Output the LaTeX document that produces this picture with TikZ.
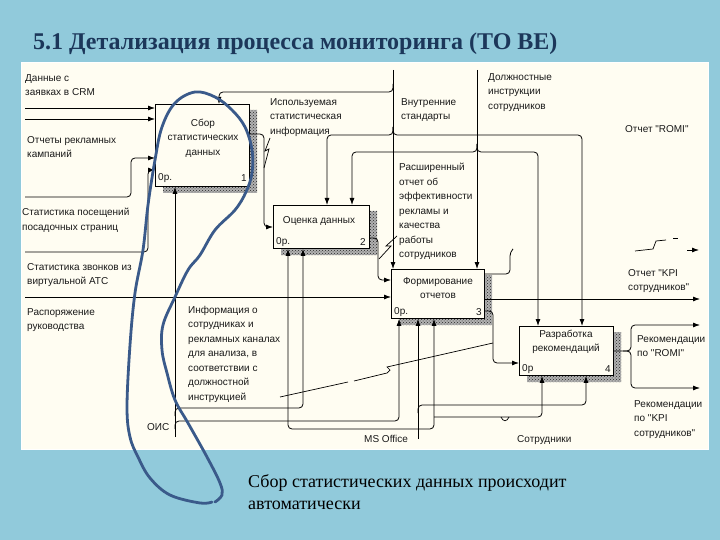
\documentclass[tikz,border=0pt]{standalone}
\usepackage{fontspec}
\setmainfont{Liberation Serif}
\newfontfamily\dsans{Liberation Sans}
\usetikzlibrary{arrows.meta,patterns}
\definecolor{bgblue}{RGB}{145,202,219}
\definecolor{panelc}{RGB}{255,253,242}
\definecolor{titlec}{RGB}{28,55,90}
\definecolor{loopc}{RGB}{58,90,138}
\definecolor{inkc}{RGB}{25,25,25}
\begin{document}
\begin{tikzpicture}[x=1pt,y=-1pt,
  lbl/.style={font=\dsans\fontsize{10}{14.5}\selectfont, text=inkc, inner sep=0pt, align=left, anchor=north west},
  boxtxt/.style={font=\dsans\fontsize{10}{14.5}\selectfont, text=inkc, inner sep=0pt, align=center},
  box/.style={draw=black, line width=0.9pt, fill=panelc, inner sep=0pt, anchor=north west},
  conn/.style={draw=black, line width=0.8pt, rounded corners=4pt},
  arr/.style={conn, -{Latex[length=7pt,width=5pt]}},
  thin/.style={draw=black, line width=0.7pt},
  shadowbase/.style={fill=black!30},
  shadowc/.style={pattern=crosshatch dots, pattern color=black!85},
]
\useasboundingbox (0,0) rectangle (720,540);
\fill[bgblue] (0,0) rectangle (720,540);
\fill[panelc, draw=white, line width=1pt] (21,63) rectangle (708,449);

% title
\node[font=\fontsize{24}{28}\selectfont\bfseries, text=titlec, inner sep=0pt, anchor=base west] (title) at (33,50) {5.1 Детализация процесса мониторинга (ТО ВЕ)};

% shadows
\foreach \sty in {shadowbase,shadowc}{
\fill[\sty] (249,110) -- (257,110) -- (257,193) -- (163,193) -- (163,186) -- (249,186) -- cycle;
\fill[\sty] (369,211) -- (377,211) -- (377,255) -- (281,255) -- (281,248) -- (369,248) -- cycle;
\fill[\sty] (484,275) -- (492,275) -- (492,325) -- (399,325) -- (399,318) -- (484,318) -- cycle;
\fill[\sty] (613,332) -- (621,332) -- (621,382) -- (527,382) -- (527,375) -- (613,375) -- cycle;
}

% boxes
\node[box, minimum width=94pt, minimum height=82pt] (b1) at (155,104) {};
\node[box, minimum width=96pt, minimum height=43pt] (b2) at (273,205) {};
\node[box, minimum width=93pt, minimum height=49pt] (b3) at (391,269) {};
\node[box, minimum width=94pt, minimum height=49pt] (b4) at (519,326) {};

\node[boxtxt] (b1t) at (203,138) {Сбор\\статистических\\данных};
\node[boxtxt] (b2t) at (319,221) {Оценка данных};
\node[boxtxt] (b3t) at (438,288) {Формирование\\отчетов};
\node[boxtxt] (b4t) at (566,342) {Разработка\\рекомендаций};

\node[boxtxt, anchor=west] (b1a) at (158,178) {0р.};
\node[boxtxt, anchor=east] (b1n) at (247,178) {1};
\node[boxtxt, anchor=west] (b2a) at (276,242) {0р.};
\node[boxtxt, anchor=east] (b2n) at (366,242) {2};
\node[boxtxt, anchor=west] (b3a) at (394,312) {0р.};
\node[boxtxt, anchor=east] (b3n) at (482,312) {3};
\node[boxtxt, anchor=west] (b4a) at (522,369) {0р};
\node[boxtxt, anchor=east] (b4n) at (611,369) {4};

% inputs
\coordinate (i1) at (25,108);
\coordinate (i2) at (25,119);
\coordinate (i3) at (25,197);
\coordinate (i4) at (25,252);
\coordinate (i5) at (25,297);
\draw[arr] (i1) -- (b1.west |- i1);
\draw[arr] (i2) -- (b1.west |- i2);
\draw[arr] (i3) -- (131,197) -- (131,158) -- (b1.west |- 0,158);
\draw[arr] (i4) -- (148,252) -- (148,170) -- (b1.west |- 0,170);
\draw[arr] (i5) -- (b3.west |- i5);

% controls
\coordinate (c1) at (393,70);
\coordinate (c2) at (477,70);
\draw[arr] (c1) -- (c1 |- b3.north);
\draw[arr] (c2) -- (c2 |- b3.north);
\draw[arr] (393,84) -- (393,92) -- (219,92) -- (b1.north -| 219,0);
\draw[arr] (393,127) -- (393,135) -- (327,135) -- (b2.north -| 327,0);
\draw[arr] (393,127) -- (393,135) -- (582,135) -- (b4.north -| 582,0);
\draw[arr] (477,144) -- (477,152) -- (352,152) -- (b2.north -| 352,0);
\draw[arr] (477,144) -- (477,152) -- (538,152) -- (b4.north -| 538,0);

% outputs
\draw[arr] (b1.east |- 0,134) -- (264,134) -- (264,227) -- (b2.west |- 0,227);
\draw[arr] (b2.east |- 0,238) -- (378,238) -- (378,280) -- (b3.west |- 0,280);
\coordinate (o1) at (700,299);
\draw[arr] (b3.east |- o1) -- (o1);
\draw[arr] (b3.east |- 0,311) -- (493,311) -- (493,363) -- (b4.west |- 0,363);
\draw[conn] (b3.east |- 0,274) -- (510,274) -- (510,252) -- (513,249);
\draw[thin] (635,251) -- (653,249) -- (656,241) -- (666,240);
\draw[thin] (673,238) -- (678,238);
\coordinate (o2) at (699,250);
\draw[arr] (687,250) -- (o2);
\coordinate (o3) at (700,325);
\coordinate (o4) at (700,388);
\draw[arr] (b4.east |- 0,351) -- (631,351) -- (631,325) -- (o3);
\draw[arr] (623,351) -- (631,351) -- (631,388) -- (o4);

% mechanisms
\coordinate (m1) at (175,437);
\draw[arr] (m1) -- (m1 |- b1.south);
\draw[arr] (175,416) -- (175,408) -- (303,408) -- (b2.south -| 303,0);
\draw[arr] (175,429) -- (175,421) -- (399,421) -- (b3.south -| 399,0);
\coordinate (m2) at (418,439);
\draw[arr] (m2) -- (m2 |- b3.south);
\draw[arr] (418,413) -- (418,405) -- (586,405) -- (b4.south -| 586,0);
\draw[arr] (418,429) -- (288,429) -- (b2.south -| 288,0);
\draw[arr] (418,429) -- (434,429) -- (b3.south -| 434,0);
\draw[arr] (434,417) -- (542,417) -- (b4.south -| 542,0);
\draw[thin] (501,417) .. controls (503,422) and (507,422) .. (509,417);

% leaders
\draw[thin] (270,138) -- (265,151) -- (269,149) -- (264,168);
\draw[thin] (397,236) -- (386,246) -- (391,246) -- (379,259);
\draw[thin] (280,397) -- (348,382);
\draw[thin] (354,381) -- (387,373) -- (390,370) -- (387,367) -- (493,343);

% labels
\node[lbl] (l1) at (25,74) {Данные с\\заявках в CRM};
\node[lbl] (l2) at (27,136) {Отчеты рекламных\\кампаний};
\node[lbl] (l3) at (22,208) {Статистика посещений\\посадочных страниц};
\node[lbl] (l4) at (27,263) {Статистика звонков из\\виртуальной АТС};
\node[lbl] (l5) at (27,308) {Распоряжение\\руководства};
\node[lbl] (l6) at (147,423) {ОИС};
\node[lbl] (l7) at (270,98) {Используемая\\статистическая\\информация};
\node[lbl] (l8) at (401,98) {Внутренние\\стандарты};
\node[lbl] (l9) at (488,73) {Должностные\\инструкции\\сотрудников};
\node[lbl] (l10) at (625,125) {Отчет "ROMI"};
\node[lbl] (l11) at (399,163) {Расширенный\\отчет об\\эффективности\\рекламы и\\качества\\работы\\сотрудников};
\node[lbl] (l12) at (188,306) {Информация о\\сотрудниках и\\рекламных каналах\\для анализа, в\\соответствии с\\должностной\\инструкцией};
\node[lbl] (l13) at (628,269) {Отчет "KPI\\сотрудников"};
\node[lbl] (l14) at (637,335) {Рекомендации\\по "ROMI"};
\node[lbl] (l15) at (634,400) {Рекомендации\\по "KPI\\сотрудников"};
\node[lbl] (l16) at (364,435) {MS Office};
\node[lbl] (l17) at (517,435) {Сотрудники};

% hand-drawn loop
\draw[loopc, line width=2.8pt, line cap=round, line join=round] plot[smooth, tension=0.6] coordinates {(212,502) (200,503) (170,495) (150,478) (138,457) (130,437) (127,407) (130,345) (135,293) (143,250) (148,205) (155,160) (162,127) (175,103) (195,92) (215,97) (232,110) (245,127) (252,150) (252,173) (246,192) (235,210) (215,230) (200,255) (188,270) (175,297) (163,325) (162,350) (167,373) (175,400) (188,423) (207,457) (220,483) (222,495) (215,502)};

% caption
\node[font=\fontsize{18}{22}\selectfont, text=black, inner sep=0pt, anchor=base west] (cap1) at (248,487) {Сбор статистических данных происходит};
\node[font=\fontsize{18}{22}\selectfont, text=black, inner sep=0pt, anchor=base west] (cap2) at (248,509) {автоматически};
\end{tikzpicture}
\end{document}
